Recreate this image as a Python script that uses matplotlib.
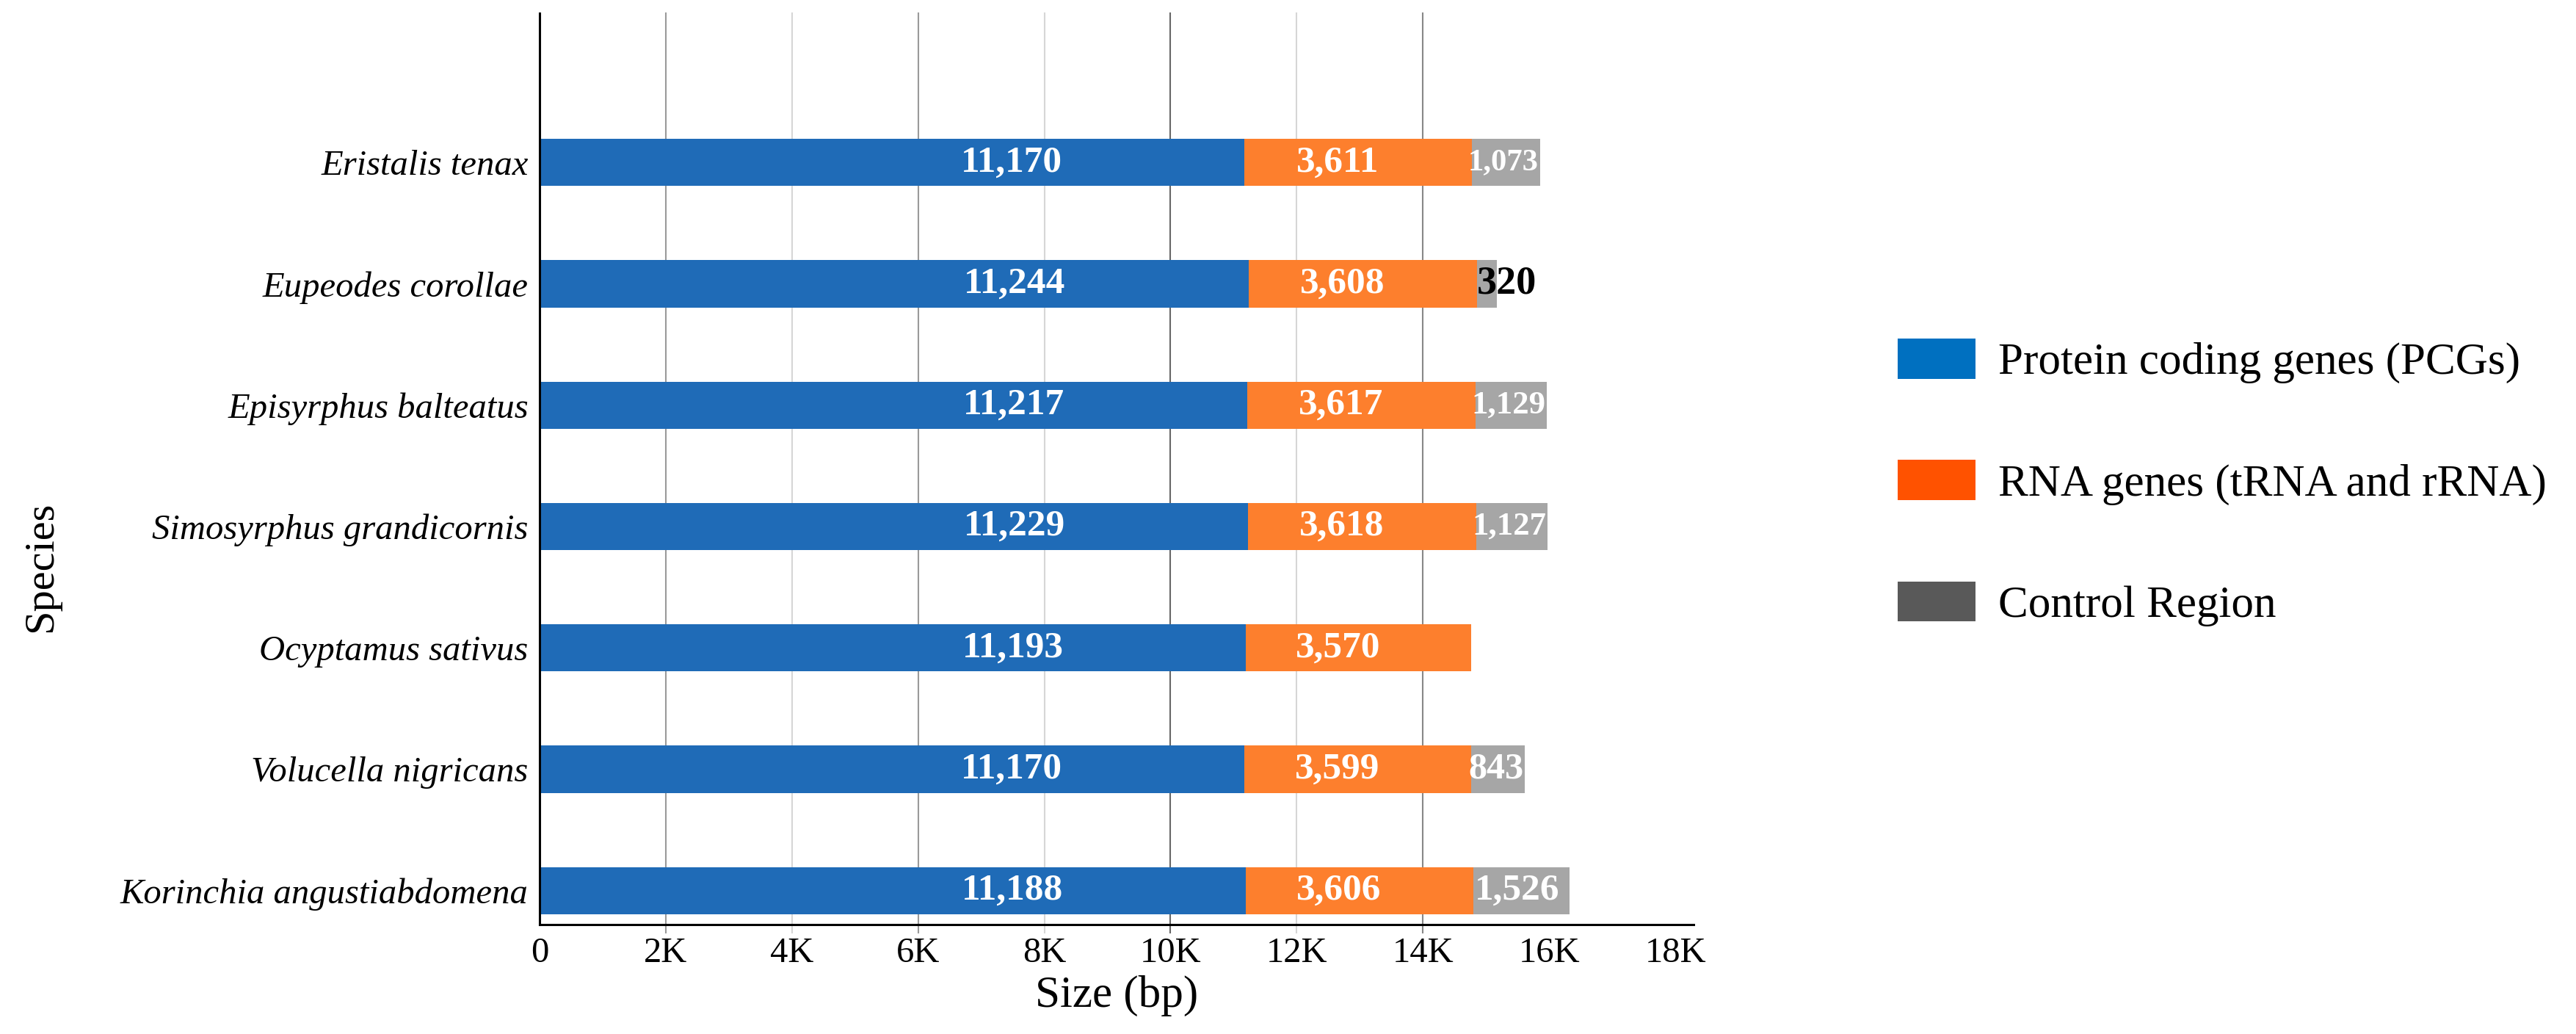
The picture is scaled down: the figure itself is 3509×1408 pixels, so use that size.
import numpy as np
import matplotlib
matplotlib.use("Agg")
import matplotlib.pyplot as plt
from matplotlib.patches import Patch

plt.rcParams['font.family'] = ['Liberation Serif', 'DejaVu Serif']

species = ["Eristalis tenax", "Eupeodes corollae", "Episyrphus balteatus",
           "Simosyrphus grandicornis", "Ocyptamus sativus", "Volucella nigricans",
           "Korinchia angustiabdomena"]
pcgs = [11170, 11244, 11217, 11229, 11193, 11170, 11188]
rna_genes = [3611, 3608, 3617, 3618, 3570, 3599, 3606]
control_region = [1073, 320, 1129, 1127, 0, 843, 1526]

xticks = [0, 2000, 4000, 6000, 8000, 10000, 12000, 14000, 16000, 18000]
xtick_labels = ["0", "2K", "4K", "6K", "8K", "10K", "12K", "14K", "16K", "18K"]
series_names = ["Protein coding genes (PCGs)", "RNA genes (tRNA and rRNA)", "Control Region"]

bar_colors = ["#1f6bb7", "#fd7f2d", "#a6a6a6"]
legend_colors = ["#0070c0", "#ff5200", "#595959"]

fig = plt.figure(figsize=(35.09, 14.08), dpi=100)
ax = fig.add_axes([735 / 3509, 1 - 1259 / 1408, (2307 - 735) / 3509, (1259 - 18) / 1408])

y = np.arange(len(species))
pcgs = np.array(pcgs)
rna_genes = np.array(rna_genes)
control_region = np.array(control_region)

h = 0.39
ax.barh(y, pcgs, height=h, color=bar_colors[0], zorder=3)
ax.barh(y, rna_genes, left=pcgs, height=h, color=bar_colors[1], zorder=3)
ax.barh(y, control_region, left=pcgs + rna_genes, height=h, color=bar_colors[2], zorder=3)

# grid lines (only up to 14K, alternating shade), poking below the axis like ticks
grid_x = [2000, 4000, 6000, 8000, 10000, 12000, 14000]
grid_c = ["#9a9a9a", "#d6d6d6", "#9a9a9a", "#d6d6d6", "#666666", "#d6d6d6", "#888888"]
for gx, gc in zip(grid_x, grid_c):
    ax.axvline(gx, ymin=-0.009, ymax=1, color=gc, lw=1.5, zorder=1, clip_on=False)

px_per_bp = (2282 - 735) / 18000.0


def seg_label(x0, w, frac, size, color="white"):
    ax.text(x0 + frac * w, yy, f"{w:,}", ha="center", va="center",
            color=color, fontsize=size, fontweight="bold", zorder=5)


for i, yy in enumerate(y):
    seg_label(0, pcgs[i], 0.67, 37)
    seg_label(pcgs[i], rna_genes[i], 0.41, 37)
    cr = control_region[i]
    if cr == 0:
        continue
    start = pcgs[i] + rna_genes[i]
    if cr < 500:
        ax.text(start, yy, f"{cr:,}", ha="left", va="center", color="black",
                fontsize=39, fontweight="bold", zorder=5)
    else:
        txt = f"{cr:,}"
        em = sum(0.25 if c == "," else 0.5 for c in txt)
        size = min(37, cr * px_per_bp / em * 0.72 * 1.04)
        seg_label(start, cr, 0.46, size)

ax.set_yticks(y)
ax.set_yticklabels(species, fontsize=35, fontstyle="italic")
ax.set_xticks(xticks)
ax.set_xticklabels(xtick_labels, fontsize=35)
ax.tick_params(axis="y", length=0, pad=11)
ax.tick_params(axis="x", length=0, pad=12)
ax.set_xlim(0, 18290)
ax.set_ylim(len(species) - 1 + 0.28, -1.23)

for s in ["top", "right"]:
    ax.spines[s].set_visible(False)
for s in ["left", "bottom"]:
    ax.spines[s].set_linewidth(2.2)
    ax.spines[s].set_color("black")
    ax.spines[s].set_zorder(4)

ax.set_xlabel("Size (bp)", fontsize=44, labelpad=6)
fig.text(56 / 3509, 1 - 772 / 1408, "Species", rotation=90, fontsize=42,
         ha="center", va="center")

handles = [Patch(facecolor=c, edgecolor="none") for c in legend_colors]
fig.legend(handles, series_names, loc="center left",
           bbox_to_anchor=(2585 / 3509, 1 - 657 / 1408), frameon=False,
           fontsize=44, handlelength=1.74, handleheight=1.0, handletextpad=0.5,
           labelspacing=1.7, borderpad=0, borderaxespad=0)

plt.savefig("out.png", dpi=100)
